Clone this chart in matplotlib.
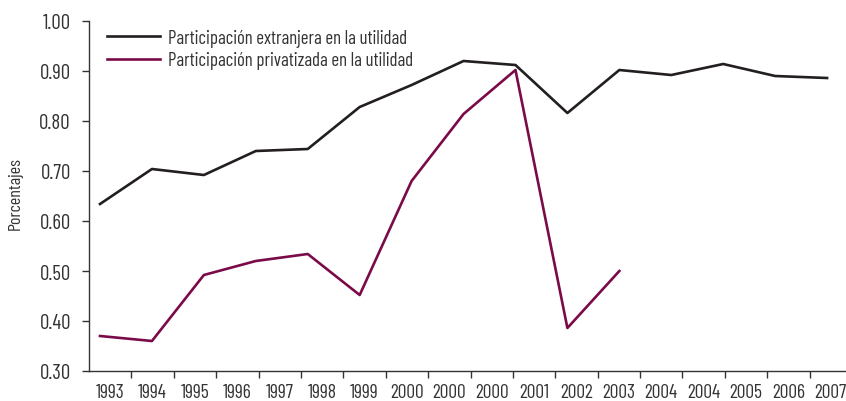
import numpy as np
import matplotlib.pyplot as plt

# x-axis labels, as printed on the original chart
year_labels = ['1993', '1994', '1995', '1996', '1997', '1998', '1999', '2000', '2000',
               '2000', '2001', '2002', '2003', '2004', '2004', '2005', '2006', '2007']

extranjera = [0.634, 0.704, 0.692, 0.740, 0.744, 0.828, 0.872, 0.920, 0.912,
              0.816, 0.902, 0.892, 0.914, 0.890, 0.886]
privatizada = [0.370, 0.360, 0.492, 0.520, 0.534, 0.452, 0.680, 0.814, 0.902,
               0.386, 0.500]

font = ['Barlow Condensed', 'DejaVu Sans']
txt = '#333333'

fig = plt.figure(figsize=(8.46, 4.02), dpi=100)
ax = fig.add_axes([89/846, 30/402, 763/846, 350/402])

ax.plot(range(len(extranjera)), extranjera, color='#231f20', lw=1.9,
        label='Participación extranjera en la utilidad')
ax.plot(range(len(privatizada)), privatizada, color='#7b0a48', lw=1.9,
        label='Participación privatizada en la utilidad')

xmin, xmax = -0.212, 14.48
ax.set_xlim(xmin, xmax)
ax.set_ylim(0.30, 1.00)

edges = np.linspace(xmin, xmax, len(year_labels) + 1)
mids = (edges[:-1] + edges[1:]) / 2
ax.set_xticks(edges[1:])
ax.set_xticklabels([])
ax.set_xticks(mids, minor=True)
ax.set_xticklabels(year_labels, minor=True, fontfamily=font, fontsize=14, color=txt)
ax.tick_params(axis='x', which='major', direction='out', length=5, width=1, color='#333333')
ax.tick_params(axis='x', which='minor', length=0, pad=9)

yt = np.arange(0.30, 1.001, 0.10)
ax.set_yticks(yt)
ax.set_yticklabels(['%.2f' % v for v in yt], fontfamily=font, fontsize=15, color=txt)
ax.tick_params(axis='y', direction='out', length=5, width=1, color='#333333', pad=8)

for s in ['top', 'right']:
    ax.spines[s].set_visible(False)
for s in ['left', 'bottom']:
    ax.spines[s].set_color('#333333')
    ax.spines[s].set_linewidth(1)

fig.text(15/846, 1 - 194/402, 'Porcentajes', rotation=90, ha='center', va='center',
         fontfamily=font, fontsize=13, color=txt)

leg = ax.legend(loc='upper left', bbox_to_anchor=(107/846, 1 - 30/402),
                bbox_transform=fig.transFigure, frameon=False,
                prop={'family': font, 'size': 13.5}, handlelength=2.85,
                handletextpad=0.38, labelspacing=0.22, borderaxespad=0, borderpad=0)
for t in leg.get_texts():
    t.set_color(txt)

fig.savefig('out.png', dpi=100)
